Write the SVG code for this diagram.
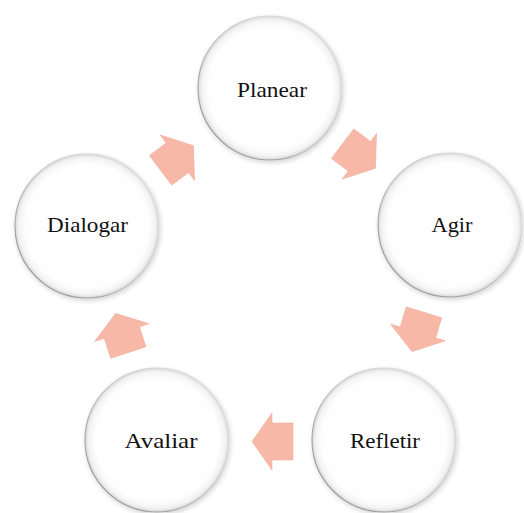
<svg xmlns="http://www.w3.org/2000/svg" width="524" height="513" viewBox="0 0 524 513">
  <defs>
    <radialGradient id="ballFill" cx="0.5" cy="0.5" r="0.5">
      <stop offset="0" stop-color="#ffffff"/>
      <stop offset="0.86" stop-color="#fefefe"/>
      <stop offset="0.95" stop-color="#f3f3f3"/>
      <stop offset="0.99" stop-color="#dddddd"/>
      <stop offset="1" stop-color="#c4c4c4"/>
    </radialGradient>
    <linearGradient id="rim" x1="1" y1="0" x2="0" y2="1">
      <stop offset="0" stop-color="#ececec"/>
      <stop offset="0.5" stop-color="#c4c4c4"/>
      <stop offset="1" stop-color="#858585"/>
    </linearGradient>
    <filter id="shadow" x="-20%" y="-20%" width="140%" height="140%">
      <feGaussianBlur in="SourceAlpha" stdDeviation="2.5"/>
      <feOffset dx="1" dy="2" result="b"/>
      <feComponentTransfer><feFuncA type="linear" slope="0.18"/></feComponentTransfer>
      <feMerge><feMergeNode/><feMergeNode in="SourceGraphic"/></feMerge>
    </filter>
    <path id="arrow" d="M-20.5,-18.5 H0.5 V-28.5 L20.5,0 L0.5,28.5 V18.5 H-20.5 Z"/>
  </defs>
  <style>
    .ball { fill: url(#ballFill); stroke: url(#rim); stroke-width: 1.1; filter: url(#shadow); }
    .lbl { font-family: 'Liberation Serif', 'DejaVu Serif', serif; font-size: 21px; fill: #111; text-anchor: middle; }
    .arr { fill: #f8b8a8; stroke: #f1ab9b; stroke-width: 0.6; }
  </style>
  <rect width="524" height="513" fill="#ffffff"/>

  <g id="connectors">
    <use href="#arrow" class="arr" transform="translate(359,156) rotate(37)"/>
    <use href="#arrow" class="arr" transform="translate(418,332) rotate(107)"/>
    <use href="#arrow" class="arr" transform="translate(272.5,441.5) rotate(180)"/>
    <use href="#arrow" class="arr" transform="translate(122,333) rotate(252)"/>
    <use href="#arrow" class="arr" transform="translate(177,158) rotate(-37)"/>
  </g>

  <g id="planear">
    <circle class="ball" cx="270" cy="88" r="72"/>
    <text class="lbl" font-family="Liberation Serif, serif" x="272" y="97" textLength="70" lengthAdjust="spacingAndGlyphs">Planear</text>
  </g>
  <g id="agir">
    <circle class="ball" cx="450" cy="225" r="72"/>
    <text class="lbl" font-family="Liberation Serif, serif" x="452" y="232" textLength="41" lengthAdjust="spacingAndGlyphs">Agir</text>
  </g>
  <g id="refletir">
    <circle class="ball" cx="384" cy="440" r="72"/>
    <text class="lbl" font-family="Liberation Serif, serif" x="385" y="448" textLength="70" lengthAdjust="spacingAndGlyphs">Refletir</text>
  </g>
  <g id="avaliar">
    <circle class="ball" cx="157" cy="440" r="72"/>
    <text class="lbl" font-family="Liberation Serif, serif" x="161" y="448" textLength="73" lengthAdjust="spacingAndGlyphs">Avaliar</text>
  </g>
  <g id="dialogar">
    <circle class="ball" cx="87" cy="226" r="72"/>
    <text class="lbl" font-family="Liberation Serif, serif" x="87.5" y="232" textLength="81" lengthAdjust="spacingAndGlyphs">Dialogar</text>
  </g>
</svg>
